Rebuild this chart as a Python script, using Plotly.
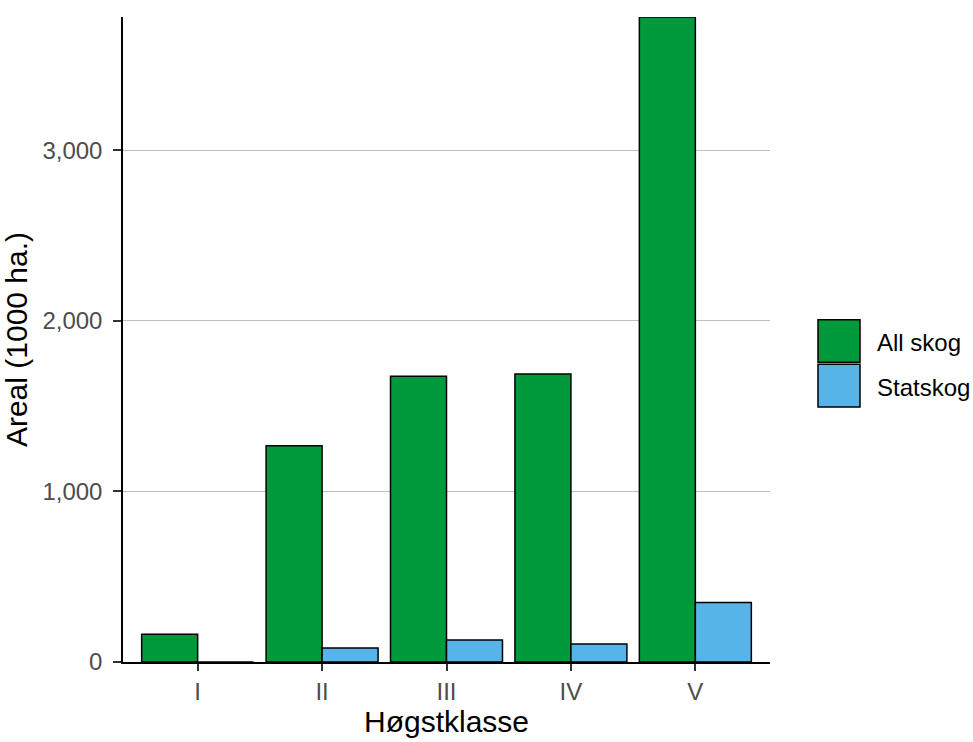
import plotly.graph_objects as go

categories = ["I", "II", "III", "IV", "V"]
all_skog = [163, 1268, 1675, 1688, 3780]
statskog = [0, 82, 129, 105, 349]
series_names = ["All skog", "Statskog"]
colors = ["#009a3d", "#56b4e9"]

FONT = "Liberation Sans, Arial, sans-serif"

W, H = 973, 742
ml, mt, mr, mb = 123, 17, 203, 75
pw, ph = W - ml - mr, H - mt - mb

fig = go.Figure()
for name, vals, col in zip(series_names, [all_skog, statskog], colors):
    fig.add_trace(go.Bar(
        x=categories, y=vals, name=name,
        marker=dict(color=col, line=dict(color="black", width=1.5)),
        cliponaxis=False, showlegend=False,
    ))

def px2paper_x(px):
    return (px - ml) / pw

def px2paper_y(py):
    return 1 - (py - mt) / ph

# custom legend (large square keys like ggplot)
key_x0, key_x1 = 818, 860
key_tops = [322, 367]
for name, col, top in zip(series_names, colors, key_tops):
    fig.add_shape(type="rect", xref="paper", yref="paper",
                  x0=px2paper_x(key_x0), x1=px2paper_x(key_x1),
                  y0=px2paper_y(top + 43), y1=px2paper_y(top),
                  fillcolor=col, line=dict(color="black", width=1.5))
    fig.add_annotation(xref="paper", yref="paper",
                       x=px2paper_x(875), y=px2paper_y(top + 23),
                       xanchor="left", yanchor="middle", showarrow=False,
                       text=name, font=dict(family=FONT, size=24, color="black"))

fig.update_layout(
    width=W, height=H,
    margin=dict(l=ml, r=mr, t=mt, b=mb),
    paper_bgcolor="white", plot_bgcolor="white",
    barmode="group", bargap=0.1, bargroupgap=0,
    font=dict(family=FONT, size=24, color="#4d4d4d"),
)
fig.update_xaxes(
    range=[-0.6, 4.6], showgrid=False, zeroline=False,
    showline=True, linecolor="black", linewidth=1.5,
    ticks="outside", ticklen=7, tickcolor="#333333", tickwidth=1.5,
    tickfont=dict(family=FONT, size=24, color="#4d4d4d"),
    title=dict(text="Høgstklasse", font=dict(family=FONT, size=30, color="black"), standoff=4),
)
fig.update_yaxes(
    range=[0, 3780], showgrid=True, gridcolor="#bebebe", gridwidth=1,
    zeroline=False, showline=True, linecolor="black", linewidth=1.5,
    tickvals=[0, 1000, 2000, 3000], ticktext=["0", "1,000", "2,000", "3,000"],
    ticks="outside", ticklen=8, tickcolor="#333333", tickwidth=1.5,
    ticklabelstandoff=6,
    tickfont=dict(family=FONT, size=24, color="#4d4d4d"),
    title=dict(text="Areal (1000 ha.)", font=dict(family=FONT, size=30, color="black"), standoff=8),
)

fig.write_html(
    "out.html",
    config={"displayModeBar": False},
    post_script="document.body.style.margin='0';document.body.style.overflow='hidden';",
)
